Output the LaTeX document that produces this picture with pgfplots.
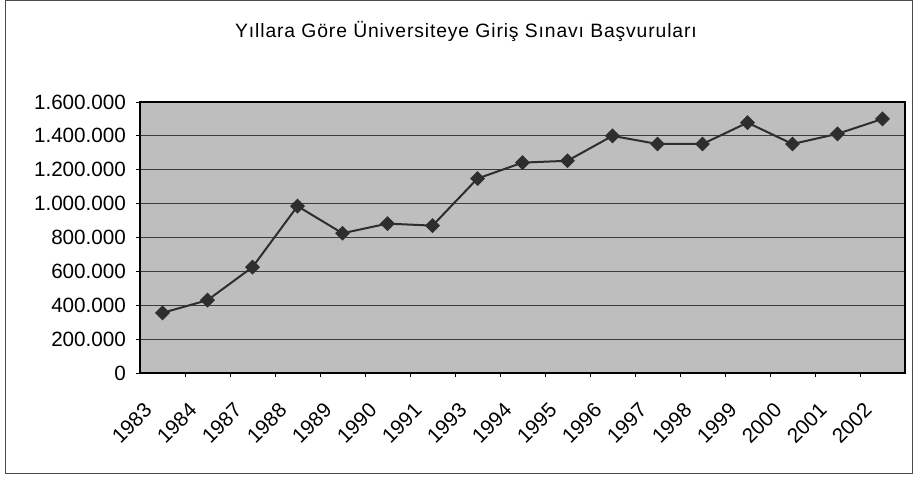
\documentclass[border=0pt]{standalone}
\usepackage{fontspec}
\setmainfont{Liberation Sans}
\usepackage{pgfplots}
\pgfplotsset{compat=1.18}

\definecolor{plotbg}{HTML}{BEBEBE}
\definecolor{gridc}{HTML}{3C3C3C}
\definecolor{linec}{HTML}{2E2E2E}

\begin{document}
\begin{tikzpicture}
% page 918x477 px at 0.75pt per px
\useasboundingbox (0,0) rectangle (688.5pt,357.75pt);
\draw[black!70, line width=0.6pt] (3.75pt,3pt) rectangle (684pt,357.2pt);
\node[font=\fontsize{14.5}{17}\selectfont\addfontfeature{LetterSpace=4.5}] at (349.5pt,334.5pt)
  {Yıllara Göre Üniversiteye Giriş Sınavı Başvuruları};
\begin{axis}[
    at={(105pt,78pt)}, anchor=south west,
    scale only axis,
    width=573.75pt, height=203.25pt,
    xmin=0.5, xmax=17.5,
    ymin=0, ymax=1600000,
    xtick={1,...,17},
    xticklabels={1983,1984,1987,1988,1989,1990,1991,1993,1994,1995,1996,1997,1998,1999,2000,2001,2002},
    minor xtick={1.5,2.5,...,16.5},
    ytick={0,200000,...,1600000},
    xtick pos=bottom, ytick pos=left,
    scaled y ticks=false,
    /pgf/number format/.cd, fixed, 1000 sep={.}, assume math mode=true, /pgfplots/.cd,
    axis background/.style={fill=plotbg},
    ymajorgrids,
    major grid style={gridc, line width=0.9pt},
    axis line style={black, line width=0.9pt},
    tick align=outside,
    major tick length=3pt,
    minor tick length=3pt,
    x tick style={draw=none},
    minor x tick style={draw=black, line width=0.7pt},
    y tick style={black, line width=0.7pt},
    tick label style={font=\fontsize{15.5}{18}\selectfont},
    x tick label style={xshift=-14.7pt, yshift=-13.5pt, rotate=45, anchor=north east},
    yticklabel style={xshift=-4pt},
]
\addplot[color=linec, line width=1.5pt, mark=square*, mark size=3.2pt,
  mark options={rotate=45, fill=linec, draw=linec}]
  coordinates {
  (1,355000) (2,430000) (3,625000) (4,985000) (5,825000) (6,882000)
  (7,870000) (8,1148000) (9,1242000) (10,1253000) (11,1400000)
  (12,1352000) (13,1352000) (14,1478000) (15,1352000) (16,1412000)
  (17,1500000)};
\end{axis}
\end{tikzpicture}
\end{document}
